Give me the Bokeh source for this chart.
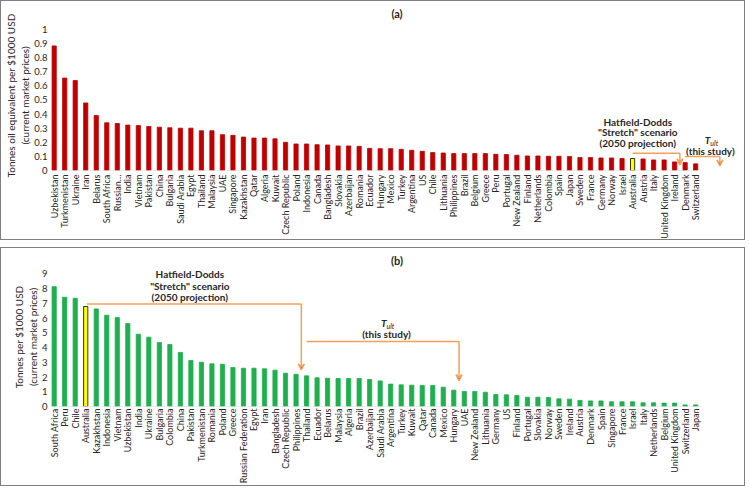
from bokeh.plotting import figure
from bokeh.models import FixedTicker, Range1d, Arrow, VeeHead, ColumnDataSource
from bokeh.layouts import column
from bokeh.embed import file_html
from bokeh.resources import INLINE
from bokeh.core.properties import value
from math import pi

# ---------------- data ----------------
countries_a = ["Uzbekistan", "Turkmenistan", "Ukraine", "Iran", "Belarus", "South Africa", "Russian\u2026",
               "India", "Vietnam", "Pakistan", "China", "Bulgaria", "Saudi Arabia", "Egypt", "Thailand",
               "Malaysia", "UAE", "Singapore", "Kazakhstan", "Qatar", "Algeria", "Kuwait", "Czech Republic",
               "Poland", "Indonesia", "Canada", "Bangladesh", "Slovakia", "Azerbaijan", "Romania", "Ecuador",
               "Hungary", "Mexico", "Turkey", "Argentina", "US", "Chile", "Lithuania", "Philippines", "Brazil",
               "Belgium", "Greece", "Peru", "Portugal", "New Zealand", "Finland", "Netherlands", "Colombia",
               "Spain", "Japan", "Sweden", "France", "Germany", "Norway", "Israel", "Australia", "Austria",
               "Italy", "United Kingdom", "Ireland", "Denmark", "Switzerland"]
values_a = [0.883, 0.655, 0.638, 0.479, 0.39, 0.338, 0.333,
            0.322, 0.319, 0.312, 0.307, 0.303, 0.300, 0.300, 0.282,
            0.282, 0.254, 0.249, 0.237, 0.230, 0.230, 0.225, 0.200,
            0.188, 0.188, 0.183, 0.181, 0.174, 0.174, 0.171, 0.157,
            0.155, 0.155, 0.150, 0.143, 0.136, 0.127, 0.124, 0.120, 0.120,
            0.120, 0.120, 0.115, 0.113, 0.108, 0.103, 0.103, 0.101,
            0.101, 0.099, 0.092, 0.092, 0.089, 0.089, 0.085, 0.085, 0.082,
            0.075, 0.075, 0.061, 0.056, 0.047]

countries_b = ["South Africa", "Peru", "Chile", "Australia", "Kazakhstan", "Indonesia", "Vietnam", "Uzbekistan",
               "India", "Ukraine", "Bulgaria", "Colombia", "China", "Pakistan", "Turkmenistan", "Romania",
               "Poland", "Greece", "Russian Federation", "Egypt", "Iran", "Bangladesh", "Czech Republic",
               "Philippines", "Thailand", "Ecuador", "Belarus", "Malaysia", "Algeria", "Brazil", "Azerbaijan",
               "Saudi Arabia", "Argentina", "Turkey", "Kuwait", "Qatar", "Canada", "Mexico", "Hungary", "UAE",
               "New Zealand", "Lithuania", "Germany", "US", "Finland", "Portugal", "Slovakia", "Norway",
               "Sweden", "Ireland", "Austria", "Denmark", "Spain", "Singapore", "France", "Israel", "Italy",
               "Netherlands", "Belgium", "United Kingdom", "Switzerland", "Japan"]
values_b = [8.14, 7.42, 7.35, 6.79, 6.63, 6.20, 6.04, 5.63,
            4.91, 4.71, 4.34, 4.21, 3.67, 3.12, 3.01, 2.90,
            2.87, 2.65, 2.60, 2.60, 2.56, 2.47, 2.26,
            2.19, 2.08, 1.95, 1.92, 1.90, 1.90, 1.90, 1.83,
            1.74, 1.52, 1.47, 1.45, 1.43, 1.43, 1.31, 1.11, 1.02,
            1.02, 0.97, 0.81, 0.79, 0.75, 0.63, 0.63, 0.61,
            0.52, 0.50, 0.41, 0.38, 0.38, 0.32, 0.32, 0.32, 0.25,
            0.25, 0.23, 0.23, 0.11, 0.11]

yticks_a = [0, 0.1, 0.2, 0.3, 0.4, 0.5, 0.6, 0.7, 0.8, 0.9, 1]
ytick_labels_a = ["0", "0.1", "0.2", "0.3", "0.4", "0.5", "0.6", "0.7", "0.8", "0.9", "1"]
yticks_b = [0, 1, 2, 3, 4, 5, 6, 7, 8, 9]
ytick_labels_b = ["0", "1", "2", "3", "4", "5", "6", "7", "8", "9"]

highlight = "Australia"
hatfield_lines = ["Hatfield-Dodds", "\"Stretch\" scenario", "(2050 projection)"]
tult_main, tult_sub, tult_note = "T", "ult", "(this study)"

FONT = "Lato"
RED = "#C00000"
GREEN = "#1EAF4F"
YELLOW = "#FFFF00"
ORANGE = "#F5A05A"
TXT = "#262626"


def make_panel(cats, vals, color, height, y_end, yticks, ylabels, ylabel, bottom, title, xstandoff):
    n = len(cats)
    xs = list(range(n))
    fills = [YELLOW if c == highlight else color for c in cats]
    outlines = ["#000000" if c == highlight else color for c in cats]
    p = figure(width=745, height=height, x_range=Range1d(-0.35, 65.55), y_range=Range1d(0, y_end),
               output_backend="svg", toolbar_location=None,
               min_border_left=42, min_border_right=3, min_border_top=19, min_border_bottom=bottom,
               styles={"border": "1px solid #7f7f7f"})
    p.outline_line_color = None
    p.grid.visible = False
    p.background_fill_color = "white"
    p.title.text = title
    p.title.align = "center"
    p.title.offset = -19
    p.title.standoff = 2
    p.title.text_font = FONT
    p.title.text_font_size = "11px"
    p.title.text_font_style = "bold"
    p.title.text_color = TXT

    src = ColumnDataSource(dict(x=xs, top=vals, fill=fills, line=outlines))
    p.vbar(x="x", top="top", width=0.4, fill_color="fill", line_color="line", line_width=0.8, source=src)
    # baseline
    p.segment(x0=[-0.5], y0=[0], x1=[n - 0.5], y1=[0], line_color="#D9D9D9", line_width=1)

    xa = p.xaxis[0]
    xa.ticker = FixedTicker(ticks=xs)
    xa.major_label_overrides = {i: c for i, c in enumerate(cats)}
    xa.major_label_orientation = pi / 2
    xa.axis_line_color = None
    xa.major_tick_line_color = None
    xa.minor_tick_line_color = None
    xa.major_tick_out = 0
    xa.major_label_standoff = xstandoff
    xa.major_label_text_font = FONT
    xa.major_label_text_font_size = "9px"
    xa.major_label_text_color = TXT

    ya = p.yaxis[0]
    ya.ticker = FixedTicker(ticks=yticks)
    ya.major_label_overrides = {t: l for t, l in zip(yticks, ylabels)}
    ya.axis_line_color = None
    ya.major_tick_line_color = None
    ya.minor_tick_line_color = None
    ya.major_tick_out = 0
    ya.major_label_standoff = 3
    ya.major_label_text_font = FONT
    ya.major_label_text_font_size = "9.5px"
    ya.major_label_text_color = TXT
    ya.axis_label = ylabel
    ya.axis_label_text_font = FONT
    ya.axis_label_text_font_size = "10px"
    ya.axis_label_text_font_style = "normal"
    ya.axis_label_text_color = TXT
    ya.axis_label_standoff = 0
    return p


def annotate(p, htx, hty, hline, harrow_y, ttx, tty, tline, tarrow_y):
    # Hatfield-Dodds text
    p.text(x=[htx] * 3, y=hty, text=hatfield_lines, text_font=value(FONT), text_font_size="10px",
           text_font_style="bold", text_align="center", text_baseline="middle", text_color=TXT)
    p.line(x=[hline[0], hline[1]], y=[hline[2], hline[2]], line_color=ORANGE, line_width=1.5)
    p.add_layout(Arrow(end=VeeHead(size=6, line_color=ORANGE, line_width=1.5),
                       x_start=hline[1], y_start=hline[2], x_end=hline[1], y_end=harrow_y,
                       line_color=ORANGE, line_width=1.5))
    # T_ult text
    p.text(x=[ttx], y=[tty[0]], text=[tult_main], text_font=value(FONT), text_font_size="10px",
           text_font_style="bold italic", text_align="right", text_baseline="middle", text_color=TXT)
    p.text(x=[ttx], y=[tty[0]], text=[tult_sub], text_font=value(FONT), text_font_size="7px",
           text_font_style="italic", text_align="left", text_baseline="middle", y_offset=3, text_color=TXT)
    p.text(x=[ttx], y=[tty[1]], text=[tult_note], text_font=value(FONT), text_font_size="10px",
           text_font_style="bold", text_align="center", text_baseline="middle", text_color=TXT)
    p.line(x=[tline[0], tline[1]], y=[tline[2], tline[2]], line_color=ORANGE, line_width=1.5)
    p.add_layout(Arrow(end=VeeHead(size=6, line_color=ORANGE, line_width=1.5),
                       x_start=tline[1], y_start=tline[2], x_end=tline[1], y_end=tarrow_y,
                       line_color=ORANGE, line_width=1.5))


pa = make_panel(countries_a, values_a, RED, 240, 1.063, yticks_a, ytick_labels_a,
                "Tonnes oil equivalent per $1000 USD\n(current market prices)", 70, "(a)", 4)
ia = countries_a.index(highlight)
annotate(pa, ia + 0.5, [0.342, 0.272, 0.192], (ia, ia + 4.5, 0.122), 0.04,
         62.4, [0.213, 0.138], (ia + 5, ia + 8.3, 0.099), 0.032)

pb = make_panel(countries_b, values_b, GREEN, 239, 9.44, yticks_b, ytick_labels_b,
                "Tonnes per $1000 USD\n(current market prices)", 81, "(b)", 2)
ib = countries_b.index(highlight)
annotate(pb, 12.9, [8.98, 8.16, 7.41], (ib + 0.1, 23.5, 6.96), 2.48,
         31.6, [5.65, 4.93], (24.0, 38.5, 4.41), 1.76)

layout = column(pa, pb, spacing=7)
open("out.html", "w").write(file_html(layout, INLINE))
